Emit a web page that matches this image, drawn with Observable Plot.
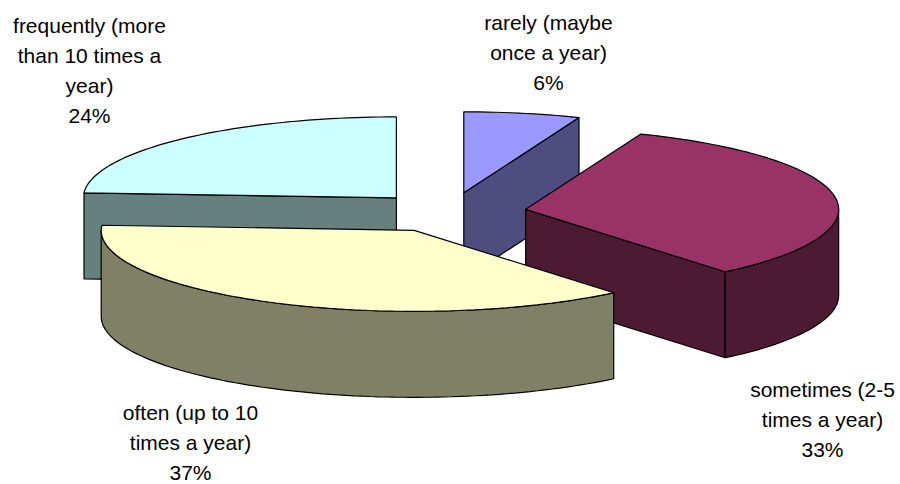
<!DOCTYPE html>
<html>
<head>
<meta charset="utf-8">
<title>How often</title>
<script src="https://cdn.jsdelivr.net/npm/d3@7"></script>
<script src="https://cdn.jsdelivr.net/npm/@observablehq/plot@0.6"></script>
<style>
  html, body { margin: 0; padding: 0; background: #fff; }
  svg { display: block; }
</style>
</head>
<body>
<div id="chart"></div>
<script>
// Answer shares, clockwise from twelve o'clock
const categories = [
  "rarely (maybe\nonce a year)",
  "sometimes (2-5\ntimes a year)",
  "often (up to 10\ntimes a year)",
  "frequently (more\nthan 10 times a\nyear)"
];
const shares = [6, 33, 37, 24];
const topColors = ["#9999ff", "#993366", "#ffffcc", "#ccffff"];
const wallColors = ["#4d4d80", "#4d1a33", "#808066", "#668080"];

// Where each label is centred, in chart units
const labelX = [548, 822, 190, 89];
const labelY = [49.5, 416.5, 439.5, 67.5];

// Tilted pie: ellipse radii, wall depth and how far slices are pulled out
const pie = {cx: 448.8, cy: 212, rx: 313, ry: 81, depth: 86, explode: 0.247};

const rad = (deg) => (deg * Math.PI) / 180;
const total = d3.sum(shares);

// Slice angles, measured clockwise from east on the tilted disc
let cursor = 270;
const slices = shares.map((share, i) => {
  const a0 = cursor;
  const a1 = (cursor += (share / total) * 360);
  const mid = (a0 + a1) / 2;
  return {
    i, a0, a1,
    cx: pie.cx + pie.explode * pie.rx * Math.cos(rad(mid)),
    cy: pie.cy + pie.explode * pie.ry * Math.sin(rad(mid))
  };
});

const rim = (s, a, drop = 0) => ({
  x: s.cx + pie.rx * Math.cos(rad(a)),
  y: s.cy + pie.ry * Math.sin(rad(a)) + drop
});
const hub = (s, drop = 0) => ({x: s.cx, y: s.cy + drop});
const arc = (s, from, to, drop = 0) => {
  const steps = Math.max(1, Math.ceil(Math.abs(to - from) / 1.5));
  return d3.range(steps + 1).map((k) => rim(s, from + ((to - from) * k) / steps, drop));
};
const closed = (pts) => [...pts, pts[0]];

// Every visible face of a slice, back to front: cut walls, curved wall, top
function faces(s) {
  const out = [];
  const wall = wallColors[s.i];
  if (Math.cos(rad(s.a0)) < -1e-6) {
    out.push({fill: wall, pts: closed([hub(s), rim(s, s.a0), rim(s, s.a0, pie.depth), hub(s, pie.depth)])});
  }
  if (Math.cos(rad(s.a1)) > 1e-6) {
    out.push({fill: wall, pts: closed([hub(s), rim(s, s.a1), rim(s, s.a1, pie.depth), hub(s, pie.depth)])});
  }
  // The curved wall shows only on the near half of the ellipse
  for (const [lo, hi] of [[0, 180], [360, 540]]) {
    const from = Math.max(s.a0, lo);
    const to = Math.min(s.a1, hi);
    if (to > from) {
      out.push({fill: wall, pts: closed([...arc(s, from, to), ...arc(s, to, from, pie.depth)])});
    }
  }
  out.push({fill: topColors[s.i], pts: closed([hub(s), ...arc(s, s.a0, s.a1)])});
  return out;
}

// Painter's order: back-left slice first, the large front slice last
const paintOrder = [3, 0, 1, 2];
const faceMarks = paintOrder.flatMap((i) => faces(slices[i])).map((f) =>
  Plot.line(f.pts, {
    x: "x",
    y: "y",
    fill: f.fill,
    stroke: "#000",
    strokeWidth: 1.2,
    strokeLinejoin: "miter"
  })
);

const labels = categories.map((name, i) => ({
  text: `${name}\n${shares[i]}%`,
  x: labelX[i],
  y: labelY[i]
}));

const chart = Plot.plot({
  width: 900,
  height: 484,
  margin: 0,
  style: {background: "#fff"},
  x: {domain: [0, 900], range: [0, 900], axis: null},
  y: {domain: [0, 484], range: [0, 484], axis: null},
  marks: [
    ...faceMarks,
    Plot.text(labels, {
      x: "x",
      y: "y",
      text: "text",
      textAnchor: "middle",
      lineAnchor: "middle",
      lineHeight: 1.43,
      fontSize: 21,
      fontFamily: "Liberation Sans",
      fill: "#000"
    })
  ]
});
document.getElementById("chart").append(chart);
</script>
</body>
</html>
